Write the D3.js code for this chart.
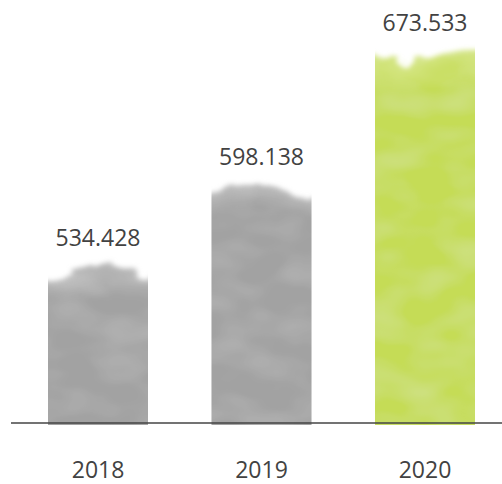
<!DOCTYPE html>
<html>
<head>
<meta charset="utf-8">
<script src="https://cdn.jsdelivr.net/npm/d3@7"></script>
<style>
  html, body { margin: 0; padding: 0; background: #fff; }
  svg { display: block; }
  text { font-family: "Open Sans", "DejaVu Sans", sans-serif; fill: #424242; }
</style>
</head>
<body>
<svg id="chart" width="502" height="484"></svg>
<script>
// Yearly totals
const years = ["2018", "2019", "2020"];
const totals = [534.428, 598.138, 673.533];
const labels = ["534.428", "598.138", "673.533"];
const barColors = ["#a2a2a2", "#a2a2a2", "#c5dc57"];
const topColors = ["#c4c4c4", "#c4c4c4", "#dcea9c"];

const W = 502, H = 484;
const baseline = 423;
const svg = d3.select("#chart");

const x = d3.scaleBand()
  .domain(years)
  .range([48, 475])
  .paddingInner(0.388)
  .paddingOuter(0);

// Heights grow steeply with the total
const y = d3.scalePow()
  .exponent(3.8)
  .domain([0, d3.max(totals)])
  .range([baseline, 55]);

const defs = svg.append("defs");

// Watercolour look: ragged, soft top edge plus faint mottling
const f = defs.append("filter")
  .attr("id", "wash")
  .attr("x", "-10%").attr("y", "-20%")
  .attr("width", "120%").attr("height", "140%");
f.append("feTurbulence")
  .attr("type", "fractalNoise").attr("baseFrequency", "0.014 0.03")
  .attr("numOctaves", 4).attr("seed", 7).attr("result", "n");
f.append("feDisplacementMap")
  .attr("in", "SourceGraphic").attr("in2", "n").attr("scale", 42)
  .attr("xChannelSelector", "R").attr("yChannelSelector", "G").attr("result", "d");
f.append("feGaussianBlur")
  .attr("in", "d").attr("stdDeviation", 2.4).attr("result", "b");
f.append("feTurbulence")
  .attr("type", "fractalNoise").attr("baseFrequency", "0.02 0.035")
  .attr("numOctaves", 2).attr("seed", 11).attr("result", "m");
f.append("feColorMatrix")
  .attr("in", "m").attr("type", "matrix")
  .attr("values", "0 0 0 0 1  0 0 0 0 1  0 0 0 0 1  0.25 0 0 0 -0.09")
  .attr("result", "mw");
f.append("feComposite")
  .attr("in", "mw").attr("in2", "b").attr("operator", "in").attr("result", "mc");
const merge = f.append("feMerge");
merge.append("feMergeNode").attr("in", "b");
merge.append("feMergeNode").attr("in", "mc");

years.forEach((yr, i) => {
  const g = defs.append("linearGradient")
    .attr("id", "grad" + i)
    .attr("gradientUnits", "userSpaceOnUse")
    .attr("x1", 0).attr("x2", 0)
    .attr("y1", y(totals[i]) - 18).attr("y2", y(totals[i]) + 30);
  g.append("stop").attr("offset", 0).attr("stop-color", topColors[i]);
  g.append("stop").attr("offset", 1).attr("stop-color", barColors[i]);

  defs.append("clipPath").attr("id", "clip" + i)
    .append("rect")
    .attr("x", x(yr)).attr("width", x.bandwidth())
    .attr("y", 0).attr("height", baseline + 2);
});

// Bars
const bars = svg.append("g");
years.forEach((yr, i) => {
  bars.append("g")
    .attr("clip-path", `url(#clip${i})`)
    .append("rect")
    .attr("x", x(yr) - 26)
    .attr("width", x.bandwidth() + 52)
    .attr("y", y(totals[i]))
    .attr("height", baseline + 30 - y(totals[i]))
    .attr("fill", `url(#grad${i})`)
    .attr("filter", "url(#wash)");
});

// Value labels
svg.append("g").selectAll("text")
  .data(years)
  .join("text")
  .attr("x", d => x(d) + x.bandwidth() / 2)
  .attr("y", (d, i) => y(totals[i]) - 24)
  .attr("text-anchor", "middle")
  .attr("font-size", 23)
  .text((d, i) => labels[i]);

// Baseline
svg.append("line")
  .attr("x1", 11).attr("x2", W)
  .attr("y1", baseline).attr("y2", baseline)
  .attr("stroke", "#444").attr("stroke-width", 1.6);

// Year axis
const ax = svg.append("g")
  .attr("transform", `translate(0,${baseline})`)
  .call(d3.axisBottom(x).tickSize(0).tickPadding(39));
ax.select(".domain").remove();
ax.selectAll("text")
  .attr("font-size", 23)
  .attr("font-family", "\"Open Sans\", \"DejaVu Sans\", sans-serif")
  .attr("fill", "#424242");
</script>
</body>
</html>
